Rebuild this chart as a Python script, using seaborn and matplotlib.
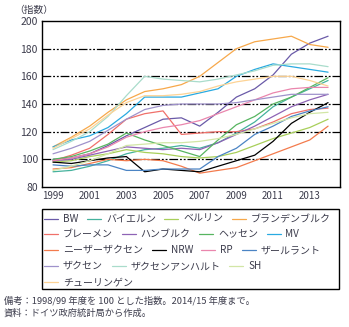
import matplotlib
matplotlib.use("Agg")
import matplotlib.pyplot as plt
import seaborn as sns
import pandas as pd
from matplotlib.lines import Line2D
from matplotlib.patches import Rectangle

sns.set_style("white")
plt.rcParams['font.family'] = ['Noto Sans CJK JP', 'DejaVu Sans']

years = list(range(1999, 2015))

states = ["BW", "バイエルン", "ベルリン", "ブランデンブルク",
          "ブレーメン", "ハンブルク", "ヘッセン", "MV",
          "ニーザーザクセン", "NRW", "RP", "ザールラント",
          "ザクセン", "ザクセンアンハルト", "SH", "チューリンゲン"]

bw          = [100, 101, 104, 110, 117, 123, 129, 130, 124, 134, 145, 151, 161, 176, 184, 189]
bayern      = [91, 92, 95, 99, 104, 107, 108, 110, 108, 112, 119, 127, 138, 145, 151, 157]
berlin      = [98, 99, 102, 104, 107, 105, 104, 102, 101, 102, 105, 110, 115, 119, 123, 129]
brandenburg = [109, 116, 124, 134, 143, 149, 151, 154, 160, 170, 180, 185, 187, 189, 183, 181]
bremen      = [99, 103, 108, 118, 129, 133, 135, 118, 119, 120, 120, 122, 127, 133, 136, 137]
hamburg     = [99, 100, 103, 106, 109, 108, 107, 108, 107, 112, 118, 124, 131, 138, 143, 147]
hessen      = [100, 102, 106, 111, 119, 114, 110, 106, 102, 114, 125, 131, 140, 145, 152, 159]
mv          = [109, 114, 117, 123, 133, 145, 145, 145, 148, 151, 160, 165, 169, 167, 165, 163]
nds         = [93, 94, 97, 100, 99, 100, 99, 95, 90, 92, 94, 99, 104, 109, 114, 124]
nrw         = [98, 97, 99, 101, 102, 91, 93, 92, 91, 95, 99, 103, 113, 126, 134, 141]
rp          = [99, 101, 104, 109, 116, 120, 123, 125, 128, 133, 138, 143, 148, 151, 152, 152]
saarland    = [96, 95, 96, 96, 92, 92, 93, 93, 93, 102, 108, 118, 124, 131, 135, 138]
sachsen     = [104, 108, 113, 121, 129, 136, 139, 140, 140, 140, 141, 143, 145, 147, 147, 147]
sachsen_an  = [107, 113, 120, 131, 146, 160, 158, 157, 156, 158, 161, 164, 168, 169, 169, 167]
sh          = [92, 95, 99, 104, 110, 111, 112, 112, 113, 115, 118, 122, 126, 130, 133, 134]
thueringen  = [108, 115, 122, 132, 141, 146, 146, 147, 149, 153, 156, 158, 160, 160, 157, 153]

series = [bw, bayern, berlin, brandenburg, bremen, hamburg, hessen, mv,
          nds, nrw, rp, saarland, sachsen, sachsen_an, sh, thueringen]

colors = ['#6a5aa8', '#45b29d', '#a8cf5a', '#f7a84a',
          '#f0706a', '#8e63b5', '#57b560', '#29aae1',
          '#f37b4d', '#000000', '#ea86ad', '#4b84c4',
          '#9f92cb', '#a9dccb', '#d2e6a6', '#fdd395']

y_ticks = [80, 100, 120, 140, 160, 180, 200]
x_labels = [1999, 2001, 2003, 2005, 2007, 2009, 2011, 2013]

rows = []
for name, vals in zip(states, series):
    for yr, v in zip(years, vals):
        rows.append({"year": yr, "value": v, "state": name})
df = pd.DataFrame(rows)

W, H = 349, 327
fig = plt.figure(figsize=(W / 100, H / 100), dpi=100)
ax = fig.add_axes([42 / W, 1 - 187 / H, (340 - 42) / W, (187 - 21) / H])

# grid lines (dash-dot-dot)
for g in [100, 120, 140, 160, 180]:
    ax.axhline(g, color='black', lw=0.9, dashes=(7, 1.5, 1.5, 1.5, 1.5, 1.5), zorder=1)

palette = dict(zip(states, colors))
sns.lineplot(data=df, x="year", y="value", hue="state", hue_order=states,
             palette=palette, lw=0.9, legend=False, ax=ax, zorder=3)

ax.set_xlim(1998.4, 2014.65)
ax.set_ylim(80, 200)
ax.set_xticks(years, minor=False)
ax.set_xticklabels([str(y) if y in x_labels else '' for y in years])
ax.set_yticks(y_ticks)
ax.tick_params(axis='x', direction='in', length=3, width=0.8, colors='black',
               labelcolor='#3c3c4c', labelsize=7, pad=3)
ax.tick_params(axis='y', length=0, labelcolor='#3c3c4c', labelsize=7.5, pad=3)
ax.set_xlabel('')
ax.set_ylabel('')
for s in ax.spines.values():
    s.set_color('black')
    s.set_linewidth(1.0)

fig.text(14 / W, 1 - 10 / H, '（指数）', fontsize=7, color='#3c3c4c',
         va='center', ha='left')

# legend box
fig.patches.append(Rectangle((42 / W, 1 - 289 / H), (339 - 42) / W, (289 - 209) / H,
                             transform=fig.transFigure, fill=False,
                             edgecolor='black', lw=1.0))

legend_rows = [[0, 1, 2, 3], [4, 5, 6, 7], [8, 9, 10, 11], [12, 13, 14], [15]]
row_y = [219, 234, 250, 266, 282]
for idxs, yy in zip(legend_rows, row_y):
    handles = [Line2D([], [], color=colors[i], lw=0.9) for i in idxs]
    labels = [states[i] for i in idxs]
    leg = fig.legend(handles, labels, loc='center left',
                     bbox_to_anchor=(42 / W, 1 - yy / H), ncol=len(idxs),
                     frameon=False, fontsize=7.2, handlelength=1.4,
                     handletextpad=0.5, columnspacing=0.85,
                     borderaxespad=0, borderpad=0.2)
    for t in leg.get_texts():
        t.set_color('#3c3c4c')

fig.text(4 / W, 1 - 301 / H, '備考：1998/99 年度を 100 とした指数。2014/15 年度まで。',
         fontsize=6.7, color='#3c3c4c', va='center', ha='left')
fig.text(4 / W, 1 - 313 / H, '資料：ドイツ政府統計局から作成。',
         fontsize=6.7, color='#3c3c4c', va='center', ha='left')

fig.savefig('out.png', dpi=100)
